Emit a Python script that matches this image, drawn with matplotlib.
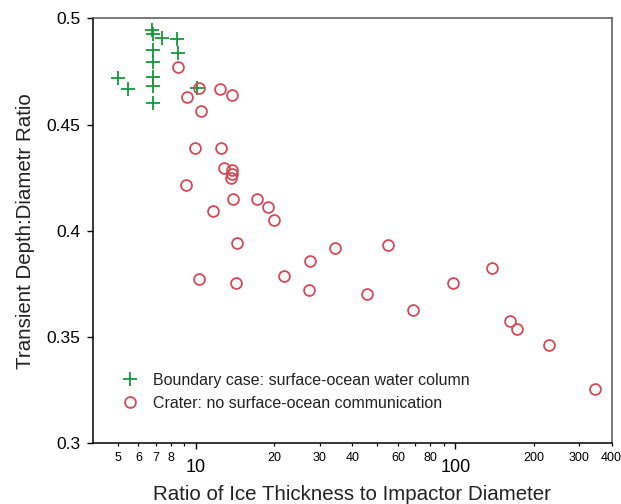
import numpy as np
import matplotlib
matplotlib.use('Agg')
import matplotlib.pyplot as plt
from matplotlib.ticker import FixedLocator, FixedFormatter

matplotlib.rcParams['font.family'] = ['Liberation Sans', 'DejaVu Sans']

# boundary case: surface-ocean water column (green crosses)
bound_x = [6.74, 6.84, 7.37, 8.47, 8.54, 6.84, 6.84, 6.84, 6.84, 6.84, 5.01, 5.47, 10.06]
bound_y = [0.4946, 0.4927, 0.4910, 0.4904, 0.4836, 0.4852, 0.4797, 0.4726, 0.4684, 0.4601,
           0.4718, 0.4668, 0.4674]

# crater: no surface-ocean communication (red circles)
crater_x = [8.54, 10.24, 12.38, 13.78, 9.23, 10.45, 9.91, 12.49, 12.83, 13.74, 13.74, 13.65,
            9.12, 13.94, 17.17, 19.03, 19.97, 11.6, 14.37, 10.27, 14.24, 21.88, 27.42, 34.37,
            54.73, 27.35, 45.52, 68.7, 98.2, 137.8, 162.1, 172.1, 228.8, 344.0]
crater_y = [0.4770, 0.4674, 0.4668, 0.4641, 0.4630, 0.4564, 0.4389, 0.4389, 0.4298, 0.4287,
            0.4270, 0.4250, 0.4214, 0.4148, 0.4149, 0.4114, 0.4053, 0.4095, 0.3942, 0.3772,
            0.3753, 0.3789, 0.3860, 0.3919, 0.3934, 0.3722, 0.3703, 0.3628, 0.3753, 0.3825,
            0.3576, 0.3540, 0.3464, 0.3254]

minor_ticks = [5, 6, 7, 8, 9, 20, 30, 40, 50, 60, 70, 80, 90, 200, 300, 400]
minor_labels = ['5', '6', '7', '8', '', '20', '30', '40', '', '60', '', '80', '', '200', '300', '400']
y_ticks = [0.3, 0.35, 0.4, 0.45, 0.5]
y_labels = ['0.3', '0.35', '0.4', '0.45', '0.5']

green = '#14993c'
red = '#d84858'

fig = plt.figure(figsize=(6.21, 5.04), dpi=100)
ax = fig.add_axes([0.1493, 0.1204, 0.8357, 0.8429])

ax.plot(bound_x, bound_y, linestyle='none', marker='+', markersize=10, markeredgewidth=1.3,
        color=green, label='Boundary case: surface-ocean water column')
ax.plot(crater_x, crater_y, linestyle='none', marker='o', markersize=7.8, markeredgewidth=1.3,
        markerfacecolor='none', markeredgecolor=red,
        label='Crater: no surface-ocean communication')

ax.set_xscale('log')
ax.set_xlim(4, 400)
ax.set_ylim(0.3, 0.5)

ax.xaxis.set_major_locator(FixedLocator([10, 100]))
ax.xaxis.set_major_formatter(FixedFormatter(['10', '100']))
ax.xaxis.set_minor_locator(FixedLocator(minor_ticks))
ax.xaxis.set_minor_formatter(FixedFormatter(minor_labels))
ax.set_yticks(y_ticks)
ax.set_yticklabels(y_labels)

ax.tick_params(axis='x', which='major', direction='out', length=4, width=1, labelsize=13, pad=7)
ax.tick_params(axis='x', which='minor', direction='out', length=2.3, width=0.9, labelsize=9, pad=4)
ax.tick_params(axis='y', which='major', direction='out', length=4, width=1, labelsize=12.5, pad=5)
ax.tick_params(top=False, right=False)

for s in ['top', 'right']:
    ax.spines[s].set_color('#555555')
for s in ax.spines.values():
    s.set_linewidth(1.1)

ax.set_xlabel('Ratio of Ice Thickness to Impactor Diameter', fontsize=14.8, color='#222222', labelpad=7)
ax.set_ylabel('Transient Depth:Diametr Ratio', fontsize=14.8, color='#222222', labelpad=8)

ax.legend(loc='upper left', bbox_to_anchor=(0.02, 0.2), frameon=False, fontsize=11.5,
          handletextpad=0.6, handlelength=1.6, labelspacing=0.5, labelcolor='#222222')

fig.savefig('out.png', dpi=100)
